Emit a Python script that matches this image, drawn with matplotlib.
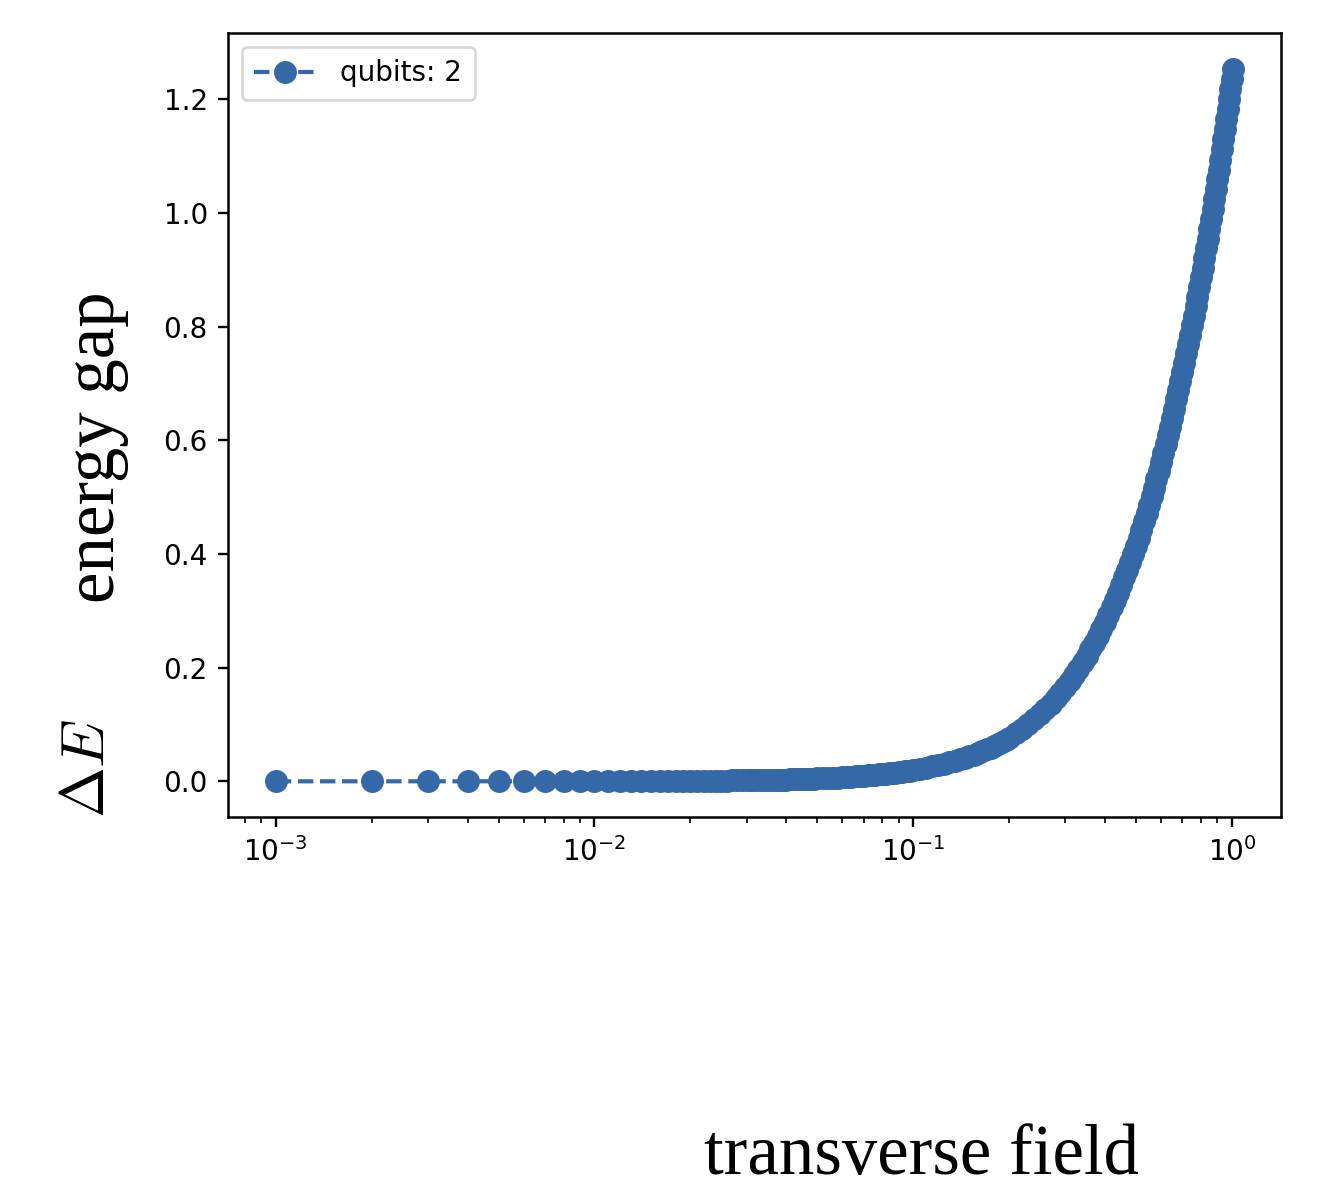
import matplotlib
matplotlib.use("Agg")
import matplotlib.pyplot as plt

# transverse field values (x) and energy gap values (y)
field_low = [0.001, 0.002, 0.003, 0.004, 0.005, 0.006, 0.007, 0.008, 0.009, 0.010,
             0.011, 0.012, 0.013, 0.014, 0.015, 0.016, 0.017, 0.018, 0.019, 0.020,
             0.021, 0.022, 0.023, 0.024, 0.025, 0.026, 0.027, 0.028, 0.029, 0.030,
             0.031, 0.032, 0.033, 0.034, 0.035, 0.036, 0.037, 0.038, 0.039, 0.040,
             0.041, 0.042, 0.043, 0.044, 0.045, 0.046, 0.047, 0.048, 0.049, 0.050]
gap_low = [0.0000, 0.0000, 0.0000, 0.0000, 0.0001, 0.0001, 0.0001, 0.0001, 0.0002, 0.0002,
           0.0002, 0.0003, 0.0003, 0.0004, 0.0004, 0.0005, 0.0006, 0.0006, 0.0007, 0.0008,
           0.0009, 0.0010, 0.0011, 0.0012, 0.0012, 0.0014, 0.0015, 0.0016, 0.0017, 0.0018,
           0.0019, 0.0020, 0.0022, 0.0023, 0.0024, 0.0026, 0.0027, 0.0029, 0.0030, 0.0032,
           0.0034, 0.0035, 0.0037, 0.0039, 0.0040, 0.0042, 0.0044, 0.0046, 0.0048, 0.0050]

field_mid = [0.052, 0.054, 0.056, 0.058, 0.060, 0.062, 0.064, 0.066, 0.068, 0.070,
             0.072, 0.074, 0.076, 0.078, 0.080, 0.082, 0.084, 0.086, 0.088, 0.090,
             0.092, 0.094, 0.096, 0.098, 0.100,
             0.105, 0.110, 0.115, 0.120, 0.125, 0.130, 0.135, 0.140, 0.145, 0.150,
             0.155, 0.160, 0.165, 0.170, 0.175, 0.180, 0.185, 0.190, 0.195, 0.200]
gap_mid = [0.0054, 0.0058, 0.0062, 0.0067, 0.0072, 0.0077, 0.0082, 0.0087, 0.0092, 0.0098,
           0.0103, 0.0109, 0.0115, 0.0121, 0.0127, 0.0134, 0.0140, 0.0147, 0.0154, 0.0161,
           0.0168, 0.0175, 0.0183, 0.0190, 0.0198,
           0.0218, 0.0239, 0.0261, 0.0284, 0.0308, 0.0333, 0.0358, 0.0385, 0.0412, 0.0440,
           0.0470, 0.0500, 0.0530, 0.0562, 0.0595, 0.0628, 0.0663, 0.0698, 0.0734, 0.0770]

field_high = [0.21, 0.22, 0.23, 0.24, 0.25, 0.26, 0.27, 0.28, 0.29, 0.30,
              0.31, 0.32, 0.33, 0.34, 0.35, 0.36, 0.37, 0.38, 0.39, 0.40,
              0.41, 0.42, 0.43, 0.44, 0.45, 0.46, 0.47, 0.48, 0.49, 0.50,
              0.51, 0.52, 0.53, 0.54, 0.55, 0.56, 0.57, 0.58, 0.59, 0.60,
              0.61, 0.62, 0.63, 0.64, 0.65, 0.66, 0.67, 0.68, 0.69, 0.70,
              0.71, 0.72, 0.73, 0.74, 0.75, 0.76, 0.77, 0.78, 0.79, 0.80,
              0.81, 0.82, 0.83, 0.84, 0.85, 0.86, 0.87, 0.88, 0.89, 0.90,
              0.91, 0.92, 0.93, 0.94, 0.95, 0.96, 0.97, 0.98, 0.99, 1.00, 1.01]
gap_high = [0.0846, 0.0925, 0.1007, 0.1092, 0.1180, 0.1271, 0.1365, 0.1461, 0.1560, 0.1662,
            0.1766, 0.1873, 0.1982, 0.2093, 0.2207, 0.2322, 0.2440, 0.2560, 0.2682, 0.2806,
            0.2932, 0.3060, 0.3189, 0.3321, 0.3454, 0.3588, 0.3724, 0.3862, 0.4001, 0.4142,
            0.4284, 0.4428, 0.4573, 0.4719, 0.4866, 0.5015, 0.5164, 0.5315, 0.5467, 0.5620,
            0.5775, 0.5930, 0.6086, 0.6243, 0.6401, 0.6560, 0.6720, 0.6881, 0.7042, 0.7205,
            0.7368, 0.7532, 0.7696, 0.7862, 0.8028, 0.8195, 0.8362, 0.8530, 0.8699, 0.8868,
            0.9038, 0.9208, 0.9379, 0.9551, 0.9723, 0.9896, 1.0069, 1.0243, 1.0417, 1.0591,
            1.0766, 1.0942, 1.1118, 1.1294, 1.1471, 1.1648, 1.1826, 1.2004, 1.2182, 1.2361, 1.2540]

series_label = "qubits: 2"
y_ticks = [0.0, 0.2, 0.4, 0.6, 0.8, 1.0, 1.2]

field = field_low + field_mid + field_high
gap = gap_low + gap_mid + gap_high

plt.rcParams["mathtext.fontset"] = "cm"
fig = plt.figure(figsize=(13.26, 11.89), dpi=100)
ax = fig.add_axes([0.1719, 0.3129, 0.7942, 0.6593])

color = "#3468a6"
ax.plot(field, gap, linestyle="--", marker="o", color=color, lw=3.0,
        markersize=15.5, label=series_label)
ax.set_xscale("log")
ax.set_yticks(y_ticks)
ax.set_yticklabels([f"{v:.1f}" for v in y_ticks])

for s in ax.spines.values():
    s.set_linewidth(1.8)
ax.tick_params(axis="both", which="major", labelsize=20, length=7.5, width=1.7, pad=7)
ax.tick_params(axis="both", which="minor", length=4.2, width=1.2)

leg = ax.legend(loc="upper left", fontsize=20, handlelength=2.2, handletextpad=0.9,
                borderpad=0.45, framealpha=0.8, fancybox=True, borderaxespad=0.5)
leg.get_frame().set_linewidth(1.8)

fig.text(0.0725, 0.624, "energy gap", rotation=90, ha="center", va="center",
         fontsize=51, family="Liberation Serif")
fig.text(0.066, 0.354, r"$\Delta E$", rotation=90, ha="center", va="center",
         fontsize=44)
fig.text(0.695, 0.027, "transverse field", ha="center", va="center",
         fontsize=51, family="Liberation Serif")

fig.savefig("out.png", dpi=100)
